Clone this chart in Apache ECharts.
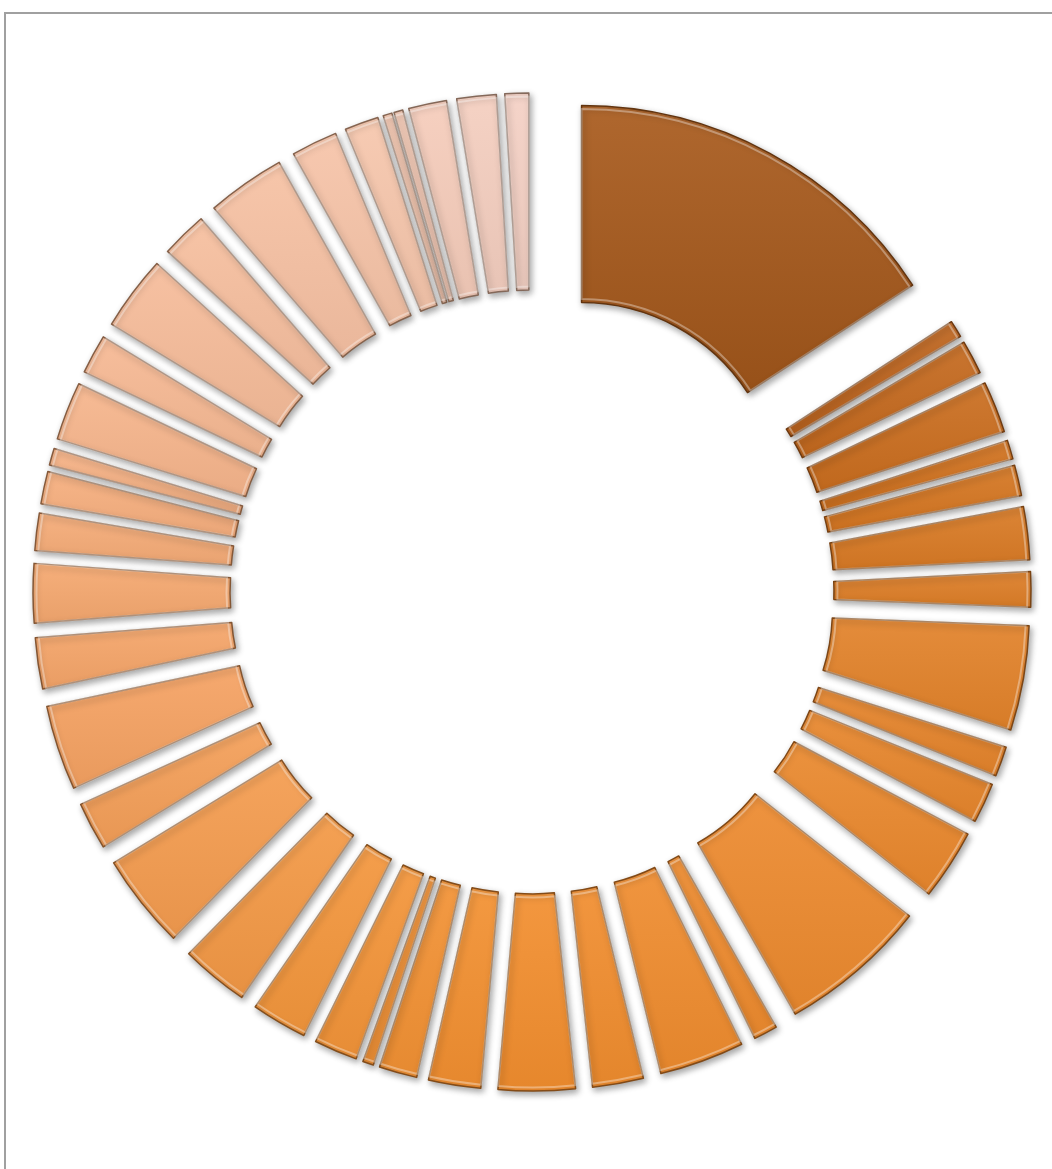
<!DOCTYPE html>
<html>
<head>
<meta charset="utf-8">
<title>Doughnut</title>
<script src="https://cdn.jsdelivr.net/npm/echarts@6/dist/echarts.min.js"></script>
<style>
  html, body { margin: 0; padding: 0; background: #ffffff; }
  #chart { width: 1052px; height: 1169px; }
</style>
</head>
<body>
<div id="chart"></div>
<script>
// Segment labels, clockwise from twelve o'clock
const categories = [
  'S1','S2','S3','S4','S5','S6','S7','S8','S9','S10',
  'S11','S12','S13','S14','S15','S16','S17','S18','S19','S20',
  'S21','S22','S23','S24','S25','S26','S27','S28','S29','S30',
  'S31','S32','S33','S34','S35','S36','S37','S38','S39','S40',
  'S41','S42','S43'
];

// Segment values
const values = [
  57, 2.5, 5, 7.6, 2.8, 4.5, 7.8, 5.2, 15.4, 4.4,
  5.9, 10.4, 22, 3.5, 12.5, 7.5, 11.3, 7.7, 5.6, 1.6,
  6.4, 8.2, 10, 14, 7, 12.5, 7.5, 8.7, 5.5, 4.8,
  2.5, 8.6, 5.8, 11, 6.8, 11.6, 6.8, 5, 1.3, 1.3,
  5.6, 5.8, 3.5
];

// Shade ramp: dark brown -> orange -> pale peach
const shadeStops = [
  [0,  '#A85A1C'],
  [1,  '#BE651E'],
  [4,  '#D0721F'],
  [8,  '#E2822A'],
  [12, '#EC8A2E'],
  [16, '#F28E2E'],
  [21, '#F3963C'],
  [25, '#F5A262'],
  [29, '#F6AF7E'],
  [33, '#F6BC9A'],
  [37, '#F6C6AC'],
  [42, '#F4D0C4']
];

function hexToRgb(h) {
  return [parseInt(h.slice(1, 3), 16), parseInt(h.slice(3, 5), 16), parseInt(h.slice(5, 7), 16)];
}
function rgbStr(c, a) {
  const s = c.map(v => Math.max(0, Math.min(255, Math.round(v)))).join(',');
  return a === undefined ? 'rgb(' + s + ')' : 'rgba(' + s + ',' + a + ')';
}
function shadeAt(i) {
  for (let k = 0; k < shadeStops.length - 1; k++) {
    const [i0, c0] = shadeStops[k];
    const [i1, c1] = shadeStops[k + 1];
    if (i >= i0 && i <= i1) {
      const t = (i - i0) / (i1 - i0);
      const a = hexToRgb(c0), b = hexToRgb(c1);
      return a.map((v, j) => v + (b[j] - v) * t);
    }
  }
  return hexToRgb(shadeStops[shadeStops.length - 1][1]);
}
function mix(c, target, t) {
  return c.map((v, j) => v + (target[j] - v) * t);
}

// Main bevelled segments
const data = values.map((v, i) => {
  const base = shadeAt(i);
  const light = mix(base, [255, 255, 255], 0.08);
  const dark = mix(base, [0, 0, 0], i === 0 ? 0.10 : 0.05);
  return {
    name: categories[i],
    value: v,
    selected: true,
    itemStyle: {
      color: new echarts.graphic.LinearGradient(0, 0, 0, 1, [
        { offset: 0, color: rgbStr(light) },
        { offset: 1, color: rgbStr(dark) }
      ]),
      borderColor: rgbStr(mix(base, [40, 20, 5], 0.55)),
      borderWidth: 1.5
    }
  };
});

// Soft inner highlight ring drawn over each segment
const glossData = values.map((v, i) => ({
  name: categories[i],
  value: v,
  selected: true,
  itemStyle: {
    color: 'rgba(0,0,0,0)',
    borderColor: 'rgba(255,255,255,0.35)',
    borderWidth: 2
  }
}));

const chart = echarts.init(document.getElementById('chart'), null, { renderer: 'canvas' });

const common = {
  type: 'pie',
  center: [532, 592],
  startAngle: 90,
  clockwise: true,
  selectedMode: 'multiple',
  selectedOffset: 104,
  avoidLabelOverlap: false,
  label: { show: false },
  labelLine: { show: false },
  emphasis: { disabled: true },
  silent: true
};

chart.setOption({
  animation: false,
  backgroundColor: '#ffffff',
  graphic: [{
    type: 'rect',
    shape: { x: 5, y: 13, width: 1100, height: 1200 },
    style: { fill: 'none', stroke: '#a0a0a0', lineWidth: 2 },
    silent: true,
    z: -1
  }],
  series: [
    Object.assign({}, common, {
      radius: [198, 395],
      itemStyle: {
        shadowBlur: 6,
        shadowOffsetX: 2,
        shadowOffsetY: 3,
        shadowColor: 'rgba(0,0,0,0.35)'
      },
      data: data,
      z: 2
    }),
    Object.assign({}, common, {
      radius: [201.5, 391.5],
      data: glossData,
      z: 3
    })
  ]
});
</script>
</body>
</html>
